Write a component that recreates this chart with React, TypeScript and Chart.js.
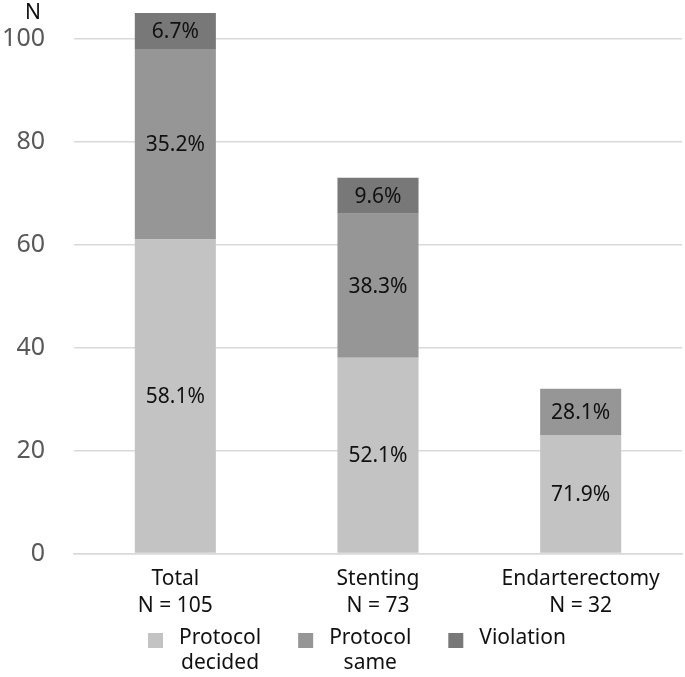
import React, { useEffect, useRef } from "react";
import { Chart, registerables } from "chart.js";

Chart.register(...registerables);

const categories = [
  ["Total", "N = 105"],
  ["Stenting", "N = 73"],
  ["Endarterectomy", "N = 32"],
];
const seriesNames = ["Protocol decided", "Protocol same", "Violation"];
const legendLines = [["Protocol", "decided"], ["Protocol", "same"], ["Violation"]];
const protocolDecided = [61, 38, 23];
const protocolSame = [37, 28, 9];
const violation = [7, 7, 0];
const decidedPct = ["58.1%", "52.1%", "71.9%"];
const samePct = ["35.2%", "38.3%", "28.1%"];
const violationPct = ["6.7%", "9.6%", ""];
const yTicks = [0, 20, 40, 60, 80, 100];
const yMax = 105;
const yTitle = "N";

const COLORS = ["#c3c3c3", "#969696", "#787878"];
const FONT = "'Noto Sans', sans-serif";
const TEXT = "#111111";

const segmentLabels = {
  id: "segmentLabels",
  afterDatasetsDraw(chart: any) {
    const ctx = chart.ctx;
    const pcts = [decidedPct, samePct, violationPct];
    ctx.save();
    ctx.font = `21px ${FONT}`;
    ctx.fillStyle = TEXT;
    ctx.textAlign = "center";
    ctx.textBaseline = "middle";
    chart.data.datasets.forEach((ds: any, di: number) => {
      const meta = chart.getDatasetMeta(di);
      meta.data.forEach((el: any, i: number) => {
        if (!ds.data[i]) return;
        const { x, y, base } = el.getProps(["x", "y", "base"], true);
        ctx.fillText(pcts[di][i], x, (y + base) / 2 + 1);
      });
    });
    ctx.restore();
  },
};

const extras = {
  id: "extras",
  afterDraw(chart: any) {
    const ctx = chart.ctx;
    ctx.save();
    ctx.font = `21px ${FONT}`;
    ctx.fillStyle = TEXT;
    ctx.textAlign = "center";
    ctx.textBaseline = "middle";
    ctx.fillText(yTitle, 33, 13);
    let x = 148;
    const box = 15;
    const boxTop = 633;
    const line1 = 638;
    const lh = 25;
    legendLines.forEach((lines, i) => {
      ctx.fillStyle = COLORS[i];
      ctx.fillRect(x, boxTop, box, box);
      const tw = Math.max(...lines.map((l) => ctx.measureText(l).width));
      const tx = x + box + 16;
      ctx.fillStyle = TEXT;
      lines.forEach((l, j) => ctx.fillText(l, tx + tw / 2, line1 + j * lh));
      x = tx + tw + 37;
    });
    ctx.restore();
  },
};

export default function App() {
  const ref = useRef<HTMLCanvasElement>(null);
  useEffect(() => {
    document.body.style.margin = "0";
    const chart = new Chart(ref.current!, {
      type: "bar",
      data: {
        labels: categories,
        datasets: [
          { label: seriesNames[0], data: protocolDecided, backgroundColor: COLORS[0] },
          { label: seriesNames[1], data: protocolSame, backgroundColor: COLORS[1] },
          { label: seriesNames[2], data: violation, backgroundColor: COLORS[2] },
        ],
      },
      options: {
        responsive: false,
        animation: false,
        devicePixelRatio: 1,
        layout: { padding: { top: 13, left: 4, right: 3, bottom: 45 } },
        datasets: { bar: { barPercentage: 0.4, categoryPercentage: 1 } },
        plugins: {
          legend: { display: false },
          tooltip: { enabled: false },
        },
        scales: {
          x: {
            stacked: true,
            grid: { display: false, drawTicks: false },
            border: { display: true, color: "#d9d9d9", width: 1.5 },
            ticks: {
              padding: 12,
              color: TEXT,
              font: { family: FONT, size: 21, lineHeight: 1.3 },
              maxRotation: 0,
            },
          },
          y: {
            stacked: true,
            min: 0,
            max: yMax,
            grid: { color: "#d9d9d9", lineWidth: 1.5, drawTicks: false },
            border: { display: false },
            ticks: {
              padding: 29,
              color: "#595959",
              font: { family: FONT, size: 25 },
            },
            afterBuildTicks: (scale: any) => {
              scale.ticks = yTicks.map((v) => ({ value: v }));
            },
            afterFit: (scale: any) => {
              scale.width = 70;
              scale.paddingTop = 0;
              scale.paddingBottom = 0;
            },
          },
        },
      },
      plugins: [segmentLabels, extras],
    });
    return () => chart.destroy();
  }, []);
  return (
    <div style={{ width: 685, height: 677 }}>
      <canvas ref={ref} width={685} height={677} style={{ display: "block" }} />
    </div>
  );
}
